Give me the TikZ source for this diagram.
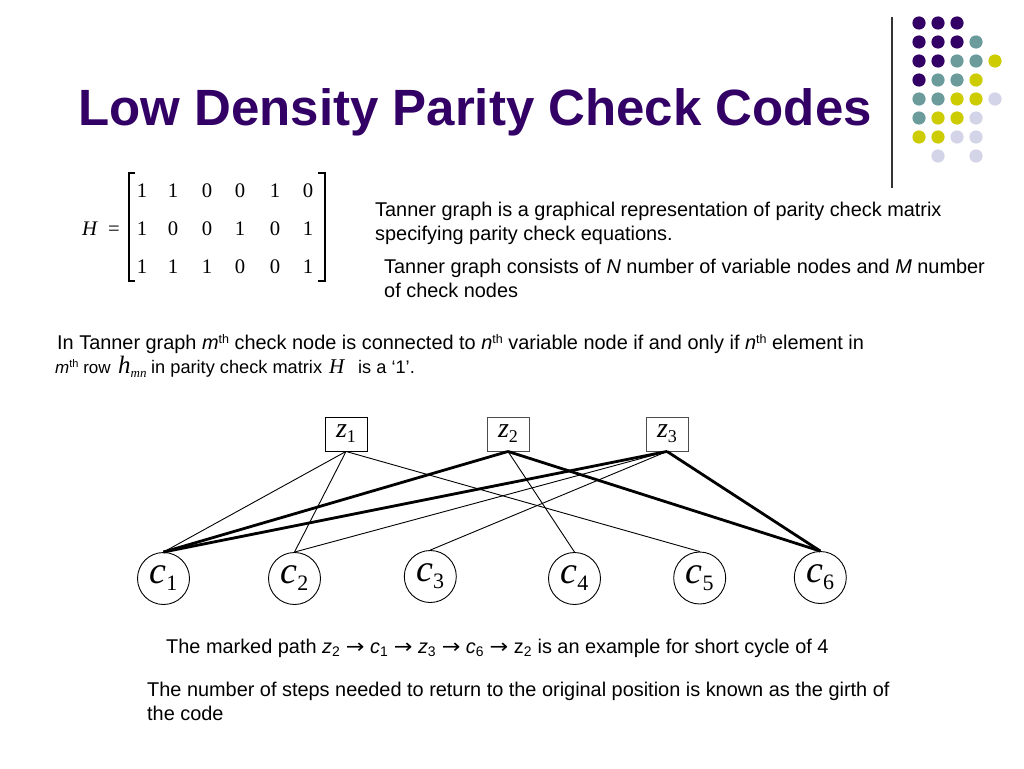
\documentclass[tikz,border=0pt]{standalone}
\usepackage{fontspec}
\setmainfont{Liberation Sans}
\newfontfamily\tnr{Liberation Serif}
\newfontfamily\dvs{DejaVu Sans}
\definecolor{ttl}{HTML}{330066}
\definecolor{dP}{HTML}{330066}
\definecolor{dT}{HTML}{6B9B9B}
\definecolor{dY}{HTML}{CCCC00}
\definecolor{dL}{HTML}{D4D4E8}
\newcommand\zlab[1]{{\fontsize{28}{28}\selectfont\tnr\itshape z}\raisebox{-5pt}{\fontsize{18}{18}\selectfont\tnr #1}}
\newcommand\clab[1]{{\fontsize{38}{38}\selectfont\tnr\itshape c}\raisebox{-7pt}{\fontsize{22}{22}\selectfont\tnr #1}}
\newcommand\arr{\scalebox{1.12}[1]{\dvs →}}
\newcommand\sups[1]{\raisebox{6pt}{\fontsize{12.5}{12.5}\selectfont #1}}
\newcommand\supsm[1]{\raisebox{5.5pt}{\fontsize{11}{11}\selectfont #1}}
\begin{document}
\begin{tikzpicture}[x=1pt,y=-1pt,
  txt/.style={anchor=base west, inner sep=0pt, font=\fontsize{19.9}{24}\selectfont},
  txs/.style={anchor=base west, inner sep=0pt, font=\fontsize{18.2}{24}\selectfont},
  ent/.style={anchor=base, inner sep=0pt, font=\fontsize{20.7}{24}\selectfont\tnr},
  zbox/.style={draw, minimum width=42pt, minimum height=34pt, inner sep=0pt, line width=0.9pt},
  cnode/.style={draw, circle, minimum size=52pt, inner sep=0pt, line width=0.9pt},
  thin/.style={line width=0.9pt},
  thick/.style={line width=2.8pt}]
\useasboundingbox (0,0) rectangle (1024,768);
\fill[white] (0,0) rectangle (1024,768);

% title
\node[anchor=base west, inner sep=0pt, text=ttl, font=\fontsize{51}{60}\selectfont\bfseries] (title) at (78,125) {Low Density Parity Check Codes};

% decoration
\draw[line width=1.3pt, black!80] (892,17) -- (892,188);
\foreach \c/\r/\col in {0/0/dP,1/0/dP,2/0/dP,
  0/1/dP,1/1/dP,2/1/dP,3/1/dT,
  0/2/dP,1/2/dP,2/2/dT,3/2/dT,4/2/dY,
  0/3/dP,1/3/dT,2/3/dT,3/3/dY,
  0/4/dT,1/4/dT,2/4/dY,3/4/dY,4/4/dL,
  0/5/dT,1/5/dY,2/5/dY,3/5/dL,
  0/6/dY,1/6/dY,2/6/dL,3/6/dL,
  1/7/dL,3/7/dL}
  \fill[\col] ({919+19*\c},{23+19*\r}) circle (6.6pt);

% matrix
\node[anchor=base west, inner sep=0pt, font=\fontsize{20.7}{24}\selectfont\tnr\itshape] (Hm) at (82,235) {H};
\node[ent] (eq) at (114,235) {=};
\foreach \v/\x [count=\i] in {1/142,1/173,0/207,0/240,1/275,0/308}
  \node[ent] (ma\i) at (\x,197) {\v};
\foreach \v/\x [count=\i] in {1/142,0/173,0/207,1/240,0/275,1/308}
  \node[ent] (mb\i) at (\x,235) {\v};
\foreach \v/\x [count=\i] in {1/142,1/173,1/207,0/240,0/275,1/308}
  \node[ent] (mc\i) at (\x,273) {\v};
\draw[line width=1.1pt] (135,173) -- (129,173) -- (129,281) -- (135,281);
\draw[line width=1.1pt] (318,173) -- (325,173) -- (325,281) -- (318,281);

% paragraphs
\node[txt] (p1a) at (375,216) {Tanner graph is a graphical representation of parity check matrix};
\node[txt] (p1b) at (375,240) {specifying parity check equations.};
\node[txt] (p2a) at (384,273) {Tanner graph consists of \textit{N} number of variable nodes and \textit{M} number};
\node[txt] (p2b) at (384,297) {of check nodes};

\node[txt] (p3a) at (57,349) {In Tanner graph \textit{m}\sups{th} check node is connected to \textit{n}\sups{th} variable node if and only if \textit{n}\sups{th} element in};
\node[anchor=base west, inner sep=0pt, font=\fontsize{17}{24}\selectfont] (p3b) at (55,373) {\textit{m}\supsm{th} row};
\node[anchor=base west, inner sep=0pt] (hmn) at (118,373) {{\fontsize{25}{25}\selectfont\tnr\itshape h}\raisebox{-4pt}{\fontsize{13}{13}\selectfont\tnr\itshape mn}};
\node[txs] (p3c) at (151,373) {in parity check matrix};
\node[anchor=base west, inner sep=0pt, font=\fontsize{21}{24}\selectfont\tnr\itshape] (HH) at (329,373) {H};
\node[txs] (p3d) at (358,373) {is a ‘1’.};

% graph
\node[zbox] (z1) at (346,434) {\zlab{1}};
\node[zbox, draw=black!70] (z2) at (508,434) {\zlab{2}};
\node[zbox, draw=black!70] (z3) at (667,434) {\zlab{3}};
\node[cnode] (c1) at (163.5,578.5) {\clab{1}};
\node[cnode] (c2) at (294.5,578.5) {\clab{2}};
\node[cnode] (c3) at (430.3,576.5) {\clab{3}};
\node[cnode] (c4) at (574.5,578.5) {\clab{4}};
\node[cnode] (c5) at (699.7,578) {\clab{5}};
\node[cnode] (c6) at (820.3,577.5) {\clab{6}};

\draw[thin] (z1.south) -- (c1.north);
\draw[thin] (z1.south) -- (c2.north);
\draw[thin] (z1.south) -- (c5.north);
\draw[thin] (z2.south) -- (c4.north);
\draw[thin] (z3.south) -- (c2.north);
\draw[thin] (z3.south) -- (c3.north);
\draw[thick] (z2.south) -- (c1.north);
\draw[thick] (z2.south) -- (c6.north);
\draw[thick] (z3.south) -- (c1.north);
\draw[thick] (z3.south) -- (c6.north);

% bottom text
\node[txt] (p4) at (166,653) {The marked path \textit{z}\textsubscript{2} \arr{} \textit{c}\textsubscript{1} \arr{} \textit{z}\textsubscript{3} \arr{} \textit{c}\textsubscript{6} \arr{} z\textsubscript{2} is an example for short cycle of 4};
\node[txt] (p5a) at (147,696) {The number of steps needed to return to the original position is known as the girth of};
\node[txt] (p5b) at (147,720) {the code};
\end{tikzpicture}
\end{document}
